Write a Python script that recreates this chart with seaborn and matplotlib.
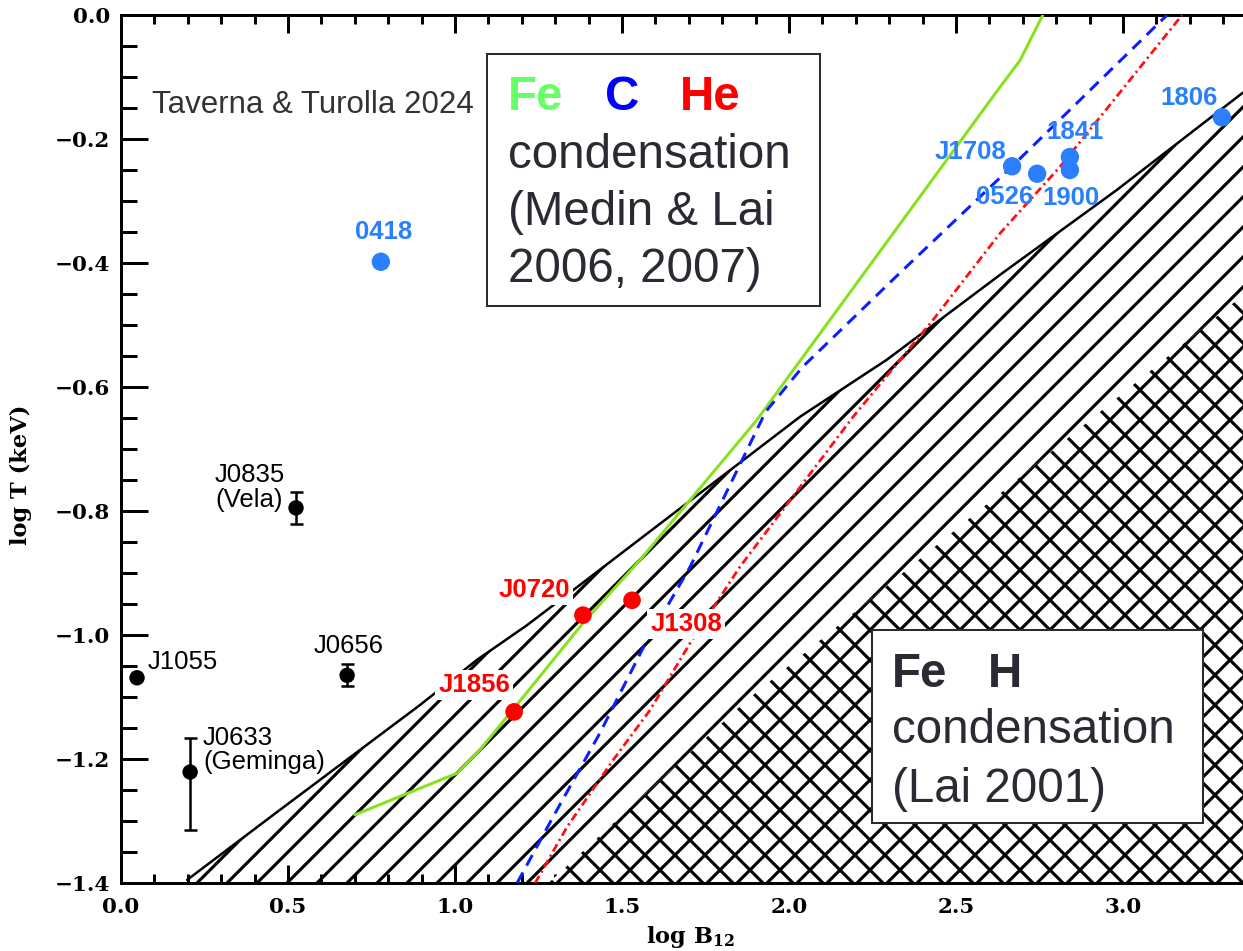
import matplotlib
matplotlib.use("Agg")
import matplotlib.pyplot as plt
import seaborn as sns
import pandas as pd
from matplotlib.patches import Rectangle
from matplotlib.ticker import MultipleLocator

# ---------------- data ----------------
src_name = ['J1055', 'J0633\n(Geminga)', 'J0656', 'J0835\n(Vela)', '0418',
            'J1708', '0526', '1841', '1900', '1806', 'J1856', 'J0720', 'J1308']
src_logB = [0.048, 0.207, 0.677, 0.524, 0.778,
            2.668, 2.743, 2.841, 2.841, 3.296, 1.177, 1.383, 1.530]
src_logT = [-1.069, -1.221, -1.065, -0.795, -0.398,
            -0.244, -0.256, -0.229, -0.250, -0.165, -1.124, -0.968, -0.944]
src_class = ['PSR', 'PSR', 'PSR', 'PSR', 'MAG',
             'MAG', 'MAG', 'MAG', 'MAG', 'MAG', 'XDINS', 'XDINS', 'XDINS']

err_logB = [0.207, 0.677, 0.524]
err_logT = [-1.221, -1.065, -0.795]
err_lo = [0.094, 0.018, 0.026]
err_hi = [0.055, 0.018, 0.026]

fe_logB = [0.70, 1.006, 1.075, 1.165, 1.383, 1.554, 1.904, 2.632, 2.692, 2.760]
fe_logT = [-1.290, -1.223, -1.185, -1.126, -0.981, -0.879, -0.653, -0.116, -0.073, 0.0]

c_logB = [1.186, 1.293, 1.434, 1.563, 1.704, 1.93, 2.04, 2.332, 2.668, 3.132]
c_logT = [-1.40, -1.294, -1.158, -1.021, -0.890, -0.64, -0.568, -0.416, -0.244, 0.0]

he_logB = [1.240, 1.335, 1.473, 1.584, 1.704, 1.853, 2.192, 2.431, 2.632, 2.811, 2.931, 3.177]
he_logT = [-1.40, -1.310, -1.202, -1.121, -1.013, -0.890, -0.648, -0.492, -0.352, -0.245, -0.165, 0.0]

# Lai 2001 condensation limits (upper hatched boundary and cross-hatched boundary)
bnd_logB = [0.198, 0.476, 0.895, 1.066, 1.216, 1.365, 2.033, 2.293, 2.632, 2.982, 3.350, 3.5]
bnd_logT = [-1.395, -1.282, -1.113, -1.040, -0.984, -0.923, -0.648, -0.556, -0.419, -0.282, -0.129, -0.07]
xh_logB = [1.28, 1.874, 3.5]
xh_logT = [-1.40, -1.105, -0.39]

x_ticks = [0.0, 0.5, 1.0, 1.5, 2.0, 2.5, 3.0]
y_ticks = [-1.4, -1.2, -1.0, -0.8, -0.6, -0.4, -0.2, 0.0]

# ---------------- layout (pixels in the 1243x951 canvas) ----------------
W, H, DPI = 1243, 951, 180
PT = 72.0 / DPI
label_dx_px = [11, 13, 2, -81, 3, -42, -33, 5, 1, -33, -40, -49, 54]
label_dy_px = [16, 22, 29, 20, 30, 14, -23, 25, -28, 19, 27, 25, -24]
label_ha = ['left', 'left', 'center', 'left', 'center', 'center', 'center',
            'center', 'center', 'center', 'center', 'center', 'center']

class_color = {'PSR': 'black', 'MAG': '#2a7fff', 'XDINS': '#ff0000'}
class_size = {'PSR': 38, 'MAG': 54, 'XDINS': 50}

sns.set_theme(style='ticks')
plt.rcParams['font.family'] = ['Liberation Sans', 'DejaVu Sans']
plt.rcParams['hatch.linewidth'] = 1.25
plt.rcParams['hatch.color'] = 'black'
plt.rcParams['mathtext.fontset'] = 'dejavuserif'
plt.rcParams['mathtext.default'] = 'bf'

fig = plt.figure(figsize=(W / DPI, H / DPI), dpi=DPI)
fig.patch.set_facecolor('white')
ax = fig.add_axes([121 / W, (H - 883) / H, 3.5 * 334 / W, 868 / H])
ax.set_facecolor('white')

# hatched regions
ax.fill_between(bnd_logB, bnd_logT, -1.4, facecolor='none', edgecolor='black',
                hatch='//', linewidth=0, zorder=1)
ax.fill_between(xh_logB, xh_logT, -1.4, facecolor='white', edgecolor='black',
                hatch='xx', linewidth=0, zorder=1.5)
sns.lineplot(x=bnd_logB, y=bnd_logT, color='black', lw=1.0, sort=False,
             estimator=None, ax=ax, zorder=2)

# condensation curves
sns.lineplot(x=fe_logB, y=fe_logT, color='#86e21c', lw=1.2, sort=False,
             estimator=None, ax=ax, zorder=3)
sns.lineplot(x=c_logB, y=c_logT, color='#0a1eff', lw=1.2, sort=False,
             estimator=None, ax=ax, zorder=3, linestyle=(0, (4, 2.6)))
sns.lineplot(x=he_logB, y=he_logT, color='#ff1010', lw=1.1, sort=False,
             estimator=None, ax=ax, zorder=3, linestyle=(0, (3.0, 1.4, 0.8, 1.4)))

# sources
df = pd.DataFrame({'logB': src_logB, 'logT': src_logT, 'cls': src_class})
ax.errorbar(err_logB, err_logT, yerr=[err_lo, err_hi], fmt='none', ecolor='black',
            elinewidth=1.0, capsize=2.6, capthick=1.0, zorder=4)
sns.scatterplot(data=df, x='logB', y='logT', hue='cls', palette=class_color,
                size='cls', sizes=class_size, linewidth=0, legend=False,
                ax=ax, zorder=5)

for i, name in enumerate(src_name):
    cls = src_class[i]
    kw = dict(fontsize=10.3, color=class_color[cls],
              fontweight='normal' if cls == 'PSR' else 'bold')
    if cls == 'XDINS':
        kw['bbox'] = dict(boxstyle='square,pad=0.12', facecolor='white', edgecolor='none')
    ax.annotate(name, xy=(src_logB[i], src_logT[i]),
                xytext=(label_dx_px[i] * PT, label_dy_px[i] * PT),
                textcoords='offset points', ha=label_ha[i], va='center',
                multialignment='left', linespacing=1.05, zorder=6, **kw)

# axes styling
ax.set_xlim(0, 3.5)
ax.set_ylim(-1.4, 0)
ax.set_xticks(x_ticks)
ax.set_yticks(y_ticks)
ax.xaxis.set_minor_locator(MultipleLocator(0.1))
ax.yaxis.set_minor_locator(MultipleLocator(0.05))
ax.tick_params(which='both', direction='in', top=True, right=True,
               color='black', width=1.2, labelcolor='black')
ax.tick_params(axis='x', which='major', length=7.2, pad=5.6)
ax.tick_params(axis='x', which='minor', length=3.6)
ax.tick_params(axis='y', which='major', length=10.8, pad=4.4)
ax.tick_params(axis='y', which='minor', length=6.4)
ax.set_xticklabels([f'{v:.1f}' for v in x_ticks])
ax.set_yticklabels([f'{v:.1f}'.replace('-', '\u2212') for v in y_ticks])
for lab in ax.get_xticklabels() + ax.get_yticklabels():
    lab.set_fontfamily('DejaVu Serif')
    lab.set_fontweight('bold')
    lab.set_fontsize(8.6)
for sp in ax.spines.values():
    sp.set_linewidth(1.2)
    sp.set_color('black')

ax.set_xlabel('log B$_{12}$', fontfamily='DejaVu Serif', fontweight='bold',
              fontsize=9, color='black')
ax.set_ylabel('log T (keV)', fontfamily='DejaVu Serif', fontweight='bold',
              fontsize=9, color='black')
ax.xaxis.set_label_coords((690 - 121) / (3.5 * 334), -(924 - 883) / 868)
ax.yaxis.set_label_coords((32 - 121) / (3.5 * 334), (883 - 475) / 868)


def fx(px):
    return px / W


def fy(py):
    return 1 - py / H


txt_col = '#2b2a33'
FS = 19

# Medin & Lai box
fig.add_artist(Rectangle((fx(487), fy(306)), (820 - 487) / W, (306 - 54) / H,
                         transform=fig.transFigure, facecolor='white',
                         edgecolor=txt_col, lw=0.8, zorder=10))
for s, x, c in [('Fe', 508, '#66ff66'), ('C', 605, '#0000ff'), ('He', 680, '#ff0000')]:
    fig.text(fx(x), fy(110), s, color=c, fontsize=FS, fontweight='bold',
             va='baseline', zorder=11)
for s, y in [('condensation', 168), ('(Medin & Lai', 225), ('2006, 2007)', 282)]:
    fig.text(fx(508), fy(y), s, color=txt_col, fontsize=FS, va='baseline', zorder=11)

# Lai 2001 box
fig.add_artist(Rectangle((fx(872), fy(823)), (1203 - 872) / W, (823 - 630) / H,
                         transform=fig.transFigure, facecolor='white',
                         edgecolor=txt_col, lw=0.8, zorder=10))
for s, x in [('Fe', 892), ('H', 988)]:
    fig.text(fx(x), fy(687), s, color=txt_col, fontsize=FS, fontweight='bold',
             va='baseline', zorder=11)
for s, y in [('condensation', 743), ('(Lai 2001)', 802)]:
    fig.text(fx(892), fy(y), s, color=txt_col, fontsize=FS, va='baseline', zorder=11)

fig.text(fx(152), fy(113), 'Taverna & Turolla 2024', color='#333333',
         fontsize=12.5, va='baseline', zorder=11)

fig.savefig('out.png', dpi=DPI, facecolor='white')
